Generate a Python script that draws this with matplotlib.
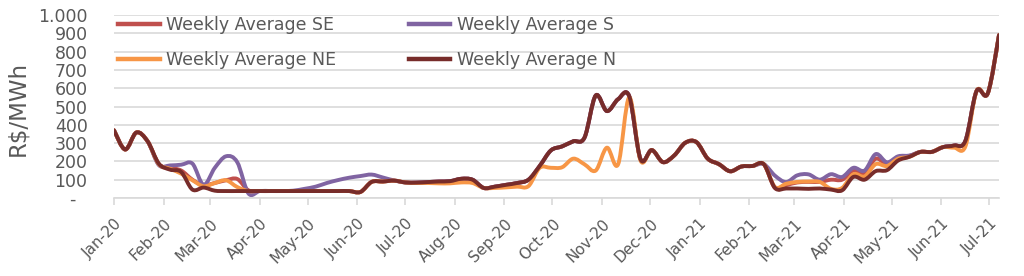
import pandas as pd
import matplotlib.pyplot as plt
import matplotlib.dates as mdates
from matplotlib.path import Path
from matplotlib.patches import PathPatch
from matplotlib.lines import Line2D

# ----------------------------------------------------------
# DATA (weekly averages, R$/MWh)
# ----------------------------------------------------------
weeks = pd.date_range("2020-01-01", periods=80, freq="7D")

avg_se = [370, 265, 358, 310, 185, 165, 150, 100, 70, 82,
          97, 104, 42, 38, 38, 38, 38, 38, 38, 38,
          38, 38, 33, 88, 90, 95, 85, 84, 87, 90,
          92, 105, 100, 55, 62, 72, 82, 100, 175, 260,
          282, 310, 330, 560, 475, 540, 555, 212, 262, 196,
          232, 302, 305, 215, 185, 146, 172, 175, 185, 55,
          70, 85, 88, 88, 100, 100, 150, 135, 215, 185,
          222, 230, 252, 252, 278, 287, 312, 585, 572, 890]

avg_s = [370, 265, 358, 310, 180, 178, 182, 188, 72, 165,
         228, 196, 25, 38, 38, 38, 40, 50, 62, 82,
         98, 111, 120, 128, 112, 96, 85, 84, 87, 90,
         92, 105, 100, 55, 62, 72, 82, 100, 175, 260,
         282, 310, 330, 560, 475, 540, 555, 212, 262, 196,
         232, 302, 305, 215, 185, 146, 172, 175, 185, 122,
         87, 124, 129, 100, 130, 115, 165, 150, 240, 195,
         228, 232, 252, 252, 278, 287, 312, 585, 572, 890]

avg_ne = [370, 265, 358, 310, 185, 160, 133, 97, 64, 82,
          97, 60, 38, 38, 38, 38, 38, 38, 38, 38,
          38, 38, 33, 88, 90, 95, 85, 82, 82, 80,
          80, 85, 82, 55, 55, 58, 62, 65, 165, 165,
          168, 215, 184, 150, 275, 184, 550, 205, 262, 196,
          232, 302, 305, 215, 185, 146, 172, 175, 185, 60,
          78, 88, 90, 88, 50, 55, 130, 118, 185, 175,
          215, 225, 252, 252, 278, 275, 282, 585, 572, 890]

avg_n = [370, 265, 358, 310, 188, 155, 142, 46, 57, 40,
         38, 38, 38, 38, 38, 38, 38, 38, 38, 38,
         38, 38, 33, 88, 90, 95, 85, 84, 87, 90,
         92, 105, 100, 55, 62, 72, 82, 100, 175, 260,
         282, 310, 330, 560, 475, 540, 555, 212, 262, 196,
         232, 302, 305, 215, 185, 146, 172, 175, 185, 55,
         52, 52, 50, 52, 46, 42, 115, 100, 147, 152,
         205, 225, 252, 252, 278, 287, 312, 585, 572, 890]

series = [
    ("Weekly Average SE", avg_se, "#c0504d"),
    ("Weekly Average S", avg_s, "#8064a2"),
    ("Weekly Average NE", avg_ne, "#f79646"),
    ("Weekly Average N", avg_n, "#772c2a"),
]

y_ticks = [0, 100, 200, 300, 400, 500, 600, 700, 800, 900, 1000]
y_labels = ["-  ", "100", "200", "300", "400", "500", "600", "700", "800", "900", "1.000"]

TXT = "#595959"
GRID = "#d9d9d9"
LW = 2.8


def smooth_path(xs, ys):
    # Excel-like smoothed line: cubic bezier through every data point
    n = len(xs)
    verts = [(xs[0], ys[0])]
    codes = [Path.MOVETO]
    for i in range(n - 1):
        a = max(i - 1, 0)
        b = min(i + 2, n - 1)
        c1 = (xs[i] + (xs[i + 1] - xs[a]) / 6, ys[i] + (ys[i + 1] - ys[a]) / 6)
        c2 = (xs[i + 1] - (xs[b] - xs[i]) / 6, ys[i + 1] - (ys[b] - ys[i]) / 6)
        verts += [c1, c2, (xs[i + 1], ys[i + 1])]
        codes += [Path.CURVE4] * 3
    return Path(verts, codes)


# ----------------------------------------------------------
# PLOT
# ----------------------------------------------------------
fig = plt.figure(figsize=(10.24, 2.76), dpi=100)
ax = fig.add_axes([114 / 1024, 1 - 198 / 276, 885 / 1024, 183 / 276])

xnum = list(mdates.date2num(weeks))
handles = {}
for name, vals, col in series:
    patch = PathPatch(smooth_path(xnum, vals), facecolor="none", edgecolor=col,
                      lw=LW, joinstyle="round", capstyle="round")
    ax.add_patch(patch)
    handles[name] = Line2D([], [], color=col, lw=LW + 0.4, label=name)

ax.set_xlim(weeks[0], weeks[-1])
ax.set_ylim(0, 1000)
ax.set_yticks(y_ticks)
ax.set_yticklabels(y_labels)
ax.grid(axis="y", color=GRID, lw=1.2)
ax.set_axisbelow(True)

for s in ["top", "right", "left"]:
    ax.spines[s].set_visible(False)
ax.spines["bottom"].set_color(GRID)
ax.spines["bottom"].set_linewidth(1.2)

ax.xaxis.set_major_locator(mdates.MonthLocator())
ax.xaxis.set_major_formatter(mdates.DateFormatter("%b-%y"))
ax.tick_params(axis="x", direction="out", length=5, width=1.2, color=GRID,
               labelsize=11, labelcolor=TXT, pad=8)
ax.tick_params(axis="y", length=0, labelsize=12.5, labelcolor=TXT, pad=19)
for lab in ax.get_xticklabels():
    lab.set_rotation(45)
    lab.set_ha("right")
    lab.set_rotation_mode("anchor")

fig.text(18 / 1024, 1 - 108 / 276, "R$/MWh", rotation=90, ha="center", va="center",
         fontsize=16.5, color=TXT)

order = ["Weekly Average SE", "Weekly Average NE", "Weekly Average S", "Weekly Average N"]
ax.legend(handles=[handles[k] for k in order], ncol=2, loc="upper left",
          bbox_to_anchor=(118 / 1024, 1 - 16 / 276), bbox_transform=fig.transFigure,
          frameon=False, fontsize=12.5, handlelength=2.4, handletextpad=0.35,
          columnspacing=4.2, labelspacing=1.0, borderpad=0, borderaxespad=0,
          labelcolor=TXT)

fig.savefig("out.png", dpi=100)
plt.close(fig)
